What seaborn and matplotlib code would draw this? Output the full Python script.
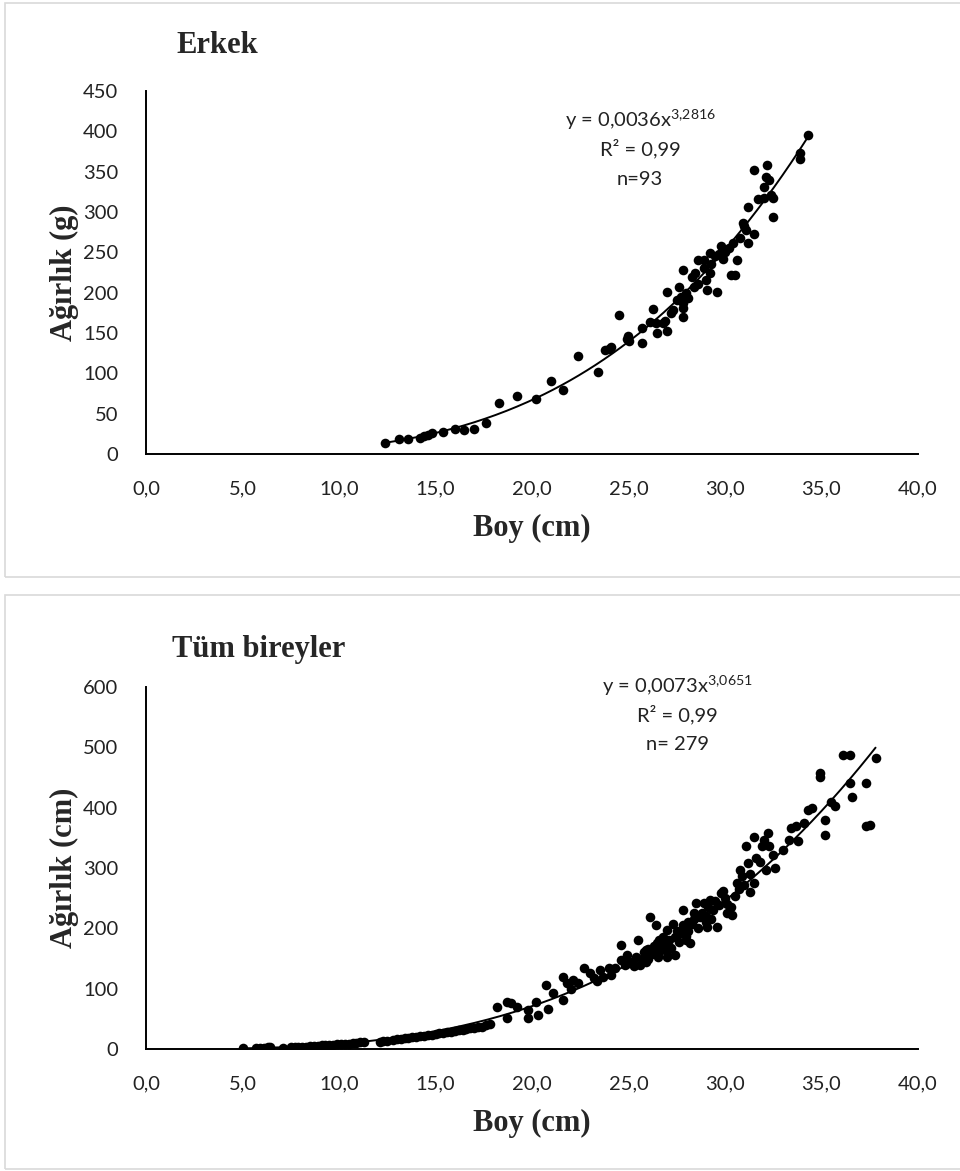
import numpy as np
import pandas as pd
import matplotlib
matplotlib.use("Agg")
import matplotlib.pyplot as plt
from matplotlib.patches import Rectangle
import seaborn as sns

# ---------------- data ----------------
erkek_boy = [12.4, 13.1, 13.6, 14.2, 14.4, 14.6, 14.8, 15.4, 16.0, 16.5,
             17.0, 17.6, 18.3, 19.2, 20.2, 21.0, 21.6, 22.4, 23.4, 23.8,
             24.1, 24.5, 24.9, 24.95, 25.7, 25.7, 26.25, 26.1, 26.4, 26.5,
             26.8, 27.0, 27.0, 27.3, 27.6, 27.5, 27.8, 28.1, 27.8, 27.8,
             27.8, 28.3, 28.45, 28.4, 28.6, 29.0, 29.05, 29.2, 29.6, 28.6,
             28.9, 29.2, 29.5, 29.8, 29.9, 30.3, 30.5, 30.2, 30.4, 30.6,
             30.95, 31.1, 31.5, 31.2, 31.2, 31.5, 31.7, 32.0, 32.0, 32.1,
             32.3, 32.2, 32.4, 32.5, 32.5, 33.9, 33.9, 34.3, 27.2, 28.0,
             28.9, 29.3, 30.0, 30.8, 26.9, 25.0, 29.7, 31.0, 24.0, 27.7]
erkek_agirlik = [14, 19, 19, 20, 22, 24, 26, 27, 31, 30,
                 31, 38, 63, 72, 68, 90, 79, 121, 102, 129,
                 133, 172, 143, 146, 138, 156, 180, 164, 163, 150,
                 162, 152, 201, 178, 207, 191, 187, 193, 170, 181,
                 228, 220, 224, 207, 211, 216, 203, 224, 201, 240,
                 240, 249, 245, 258, 242, 222, 222, 255, 261, 240,
                 286, 278, 273, 261, 306, 352, 316, 317, 331, 344,
                 340, 358, 321, 317, 294, 373, 366, 395, 175, 200,
                 230, 236, 250, 268, 165, 140, 248, 283, 130, 195]

tum_boy = [5.0, 5.7, 5.9, 6.1, 6.3, 6.45, 7.1, 7.5, 7.7, 7.9,
           8.1, 8.3, 8.5, 8.7, 8.9, 9.1, 9.3, 9.5, 9.7, 9.9,
           10.1, 10.3, 10.5, 10.7, 10.9, 11.1, 11.3, 12.1, 12.3, 12.5,
           12.8, 13.0, 13.2, 13.4, 13.6, 13.8, 14.0, 14.2, 14.4, 14.6,
           14.8, 15.0, 15.2, 15.4, 15.6, 15.8, 16.0, 16.2, 16.4, 16.6,
           16.8, 17.0, 17.2, 17.4, 17.6, 17.8, 18.2, 18.7, 18.9, 19.2,
           18.7, 19.8, 19.8, 20.2, 20.3, 20.7, 20.85, 21.1, 21.6, 21.6,
           21.8, 22.1, 22.7, 23.0, 23.35, 23.5, 24.0, 24.1, 24.6, 24.6,
           25.0, 25.4, 25.5, 25.6, 25.9, 26.1, 26.4, 26.55, 26.6, 27.0,
           27.0, 27.3, 27.4, 27.7, 27.8, 28.0, 28.2, 28.3, 28.5, 28.7,
           28.9, 29.05, 29.2, 29.4, 29.6, 29.8, 30.3, 30.35, 30.5, 30.7,
           30.8, 30.9, 31.0, 31.1, 31.2, 31.3, 31.5, 31.5, 31.6, 31.9,
           32.0, 32.1, 32.25, 32.3, 32.5, 32.6, 33.0, 33.3, 33.4, 33.7,
           33.8, 34.1, 34.3, 34.5, 34.9, 34.9, 35.2, 35.2, 35.5, 35.7,
           36.1, 36.5, 36.5, 36.6, 37.3, 37.3, 37.5, 37.8, 24.3, 24.8,
           25.2, 25.7, 25.8, 26.0, 26.2, 26.3, 26.5, 26.7, 26.8, 26.9,
           27.1, 27.2, 27.4, 27.5, 27.6, 27.9, 28.1, 28.1, 28.4, 28.6,
           28.8, 29.0, 29.1, 29.3, 29.5, 29.7, 30.0, 30.1, 26.0, 27.0,
           28.0, 29.0, 25.3, 25.9, 26.6, 23.7, 23.2, 22.4, 22.0, 24.9,
           27.8, 28.4, 29.9, 30.6, 31.3, 31.8, 30.1]
tum_agirlik = [1, 2, 2, 2, 3, 3, 2, 3, 3, 4,
               4, 4, 5, 5, 5, 6, 6, 7, 7, 8,
               8, 9, 9, 10, 10, 11, 11, 12, 13, 14,
               15, 16, 17, 18, 19, 20, 20, 21, 22, 23,
               24, 25, 26, 27, 28, 29, 30, 31, 32, 33,
               34, 35, 36, 37, 39, 42, 70, 78, 76, 70,
               51, 51, 65, 78, 56, 106, 67, 92, 81, 120,
               109, 114, 134, 126, 112, 131, 134, 123, 148, 172,
               142, 153, 181, 139, 164, 219, 206, 153, 181, 153,
               197, 208, 156, 192, 230, 181, 175, 208, 242, 219,
               242, 203, 247, 230, 203, 258, 236, 222, 253, 266,
               297, 286, 272, 336, 308, 261, 275, 352, 316, 336,
               347, 297, 358, 336, 322, 300, 330, 347, 366, 369,
               344, 374, 396, 399, 457, 451, 380, 355, 410, 402,
               488, 488, 441, 418, 441, 369, 371, 482, 135, 140,
               145, 150, 160, 165, 158, 170, 175, 165, 185, 172,
               180, 168, 185, 195, 178, 200, 195, 210, 215, 200,
               225, 220, 235, 215, 245, 238, 250, 225, 150, 162,
               188, 210, 138, 145, 160, 120, 118, 110, 100, 155,
               205, 225, 262, 275, 290, 310, 240]

# trendline (power) coefficients as printed on the chart
erkek_a, erkek_b = 0.0036, 3.2816
tum_a, tum_b = 0.0073, 3.0651

titles = ["Erkek", "Tüm bireyler"]
ylabels = ["Ağırlık (g)", "Ağırlık (cm)"]
xlabel = "Boy (cm)"
eq_texts = ["y = 0,0036x$^{3{,}2816}$", "y = 0,0073x$^{3{,}0651}$"]
r2_texts = ["R² = 0,99", "R² = 0,99"]
n_texts = ["n=93", "n= 279"]
x_ticks = [0, 5, 10, 15, 20, 25, 30, 35, 40]
x_tick_labels = ["0,0", "5,0", "10,0", "15,0", "20,0", "25,0", "30,0", "35,0", "40,0"]
y_ticks_top = [0, 50, 100, 150, 200, 250, 300, 350, 400, 450]
y_ticks_bottom = [0, 100, 200, 300, 400, 500, 600]

# ---------------- style ----------------
sns.set_theme(style="white")
plt.rcParams["font.family"] = ["Lato", "DejaVu Sans"]
plt.rcParams["mathtext.fontset"] = "custom"
plt.rcParams["mathtext.rm"] = "Lato"
plt.rcParams["mathtext.it"] = "Lato"
plt.rcParams["mathtext.default"] = "regular"

SERIF = ["Liberation Serif", "DejaVu Serif"]
TICK_FS = 14.5
SERIF_FS = 22

W, H = 960, 1171
fig = plt.figure(figsize=(W / 100, H / 100), dpi=100)

# panel borders
for (top_px, bot_px) in [(3, 577), (595, 1169)]:
    fig.add_artist(Rectangle((5 / W, 1 - bot_px / H), 1.0, (bot_px - top_px) / H,
                             transform=fig.transFigure, fill=False,
                             edgecolor="#d9d9d9", linewidth=1.2))

def px_axes(left, right, top, bottom):
    return [left / W, 1 - bottom / H, (right - left) / W, (bottom - top) / H]

ax1 = fig.add_axes(px_axes(146, 918, 91, 454))
ax2 = fig.add_axes(px_axes(146, 918, 687, 1049))

panels = [
    (ax1, erkek_boy, erkek_agirlik, erkek_a, erkek_b, 450, y_ticks_top),
    (ax2, tum_boy, tum_agirlik, tum_a, tum_b, 600, y_ticks_bottom),
]

title_y = [1.105, 1.083]
xlabel_y = [-0.206, -0.206]
eq_x = [0.64, 0.688]
eq_y = [(0.902, 0.824, 0.741), (0.983, 0.904, 0.826)]

for i, (ax, xs, ys, a, b, ymax, yt) in enumerate(panels):
    df = pd.DataFrame({"boy": xs, "agirlik": ys})
    sns.scatterplot(data=df, x="boy", y="agirlik", ax=ax, color="black",
                    s=48, linewidth=0, zorder=3)
    xf = np.linspace(min(xs), max(xs), 200)
    fit = pd.DataFrame({"boy": xf, "agirlik": a * xf ** b})
    sns.lineplot(data=fit, x="boy", y="agirlik", ax=ax, color="black",
                 linewidth=1.4, zorder=4)

    ax.set_xlim(0, 40)
    ax.set_ylim(0, ymax)
    ax.set_xticks(x_ticks)
    ax.set_xticklabels(x_tick_labels)
    ax.set_yticks(yt)
    ax.set_yticklabels([str(v) for v in yt])
    ax.tick_params(axis="both", length=0, labelsize=TICK_FS, colors="#222222")
    ax.tick_params(axis="x", pad=19)
    ax.tick_params(axis="y", pad=20)
    for s in ["top", "right"]:
        ax.spines[s].set_visible(False)
    for s in ["left", "bottom"]:
        ax.spines[s].set_color("black")
        ax.spines[s].set_linewidth(1.4)
    ax.set_facecolor("none")
    ax.grid(False)

    ax.set_xlabel(xlabel, fontfamily=SERIF, fontweight="bold", fontsize=SERIF_FS,
                  va="center")
    ax.xaxis.set_label_coords(0.5, xlabel_y[i])
    ax.set_ylabel(ylabels[i], fontfamily=SERIF, fontweight="bold", fontsize=SERIF_FS,
                  va="center")
    ax.yaxis.set_label_coords(-0.105, 0.5)

    ax.text(0.04 if i == 0 else 0.034, title_y[i], titles[i], transform=ax.transAxes,
            fontfamily=SERIF, fontweight="bold", fontsize=SERIF_FS,
            ha="left", va="baseline")

    ey = eq_y[i]
    ax.text(eq_x[i], ey[0], eq_texts[i], transform=ax.transAxes, ha="center",
            va="baseline", fontsize=TICK_FS, color="#222222")
    ax.text(eq_x[i], ey[1], r2_texts[i], transform=ax.transAxes, ha="center",
            va="baseline", fontsize=TICK_FS, color="#222222")
    ax.text(eq_x[i], ey[2], n_texts[i], transform=ax.transAxes, ha="center",
            va="baseline", fontsize=TICK_FS, color="#222222")

fig.savefig("out.png", dpi=100, facecolor="white")
